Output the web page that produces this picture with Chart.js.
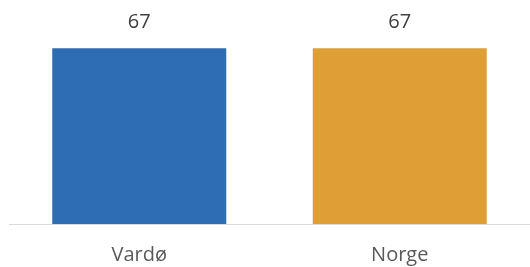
<!DOCTYPE html>
<html>
<head>
<meta charset="utf-8">
<script src="https://cdn.jsdelivr.net/npm/chart.js@4.4.0/dist/chart.umd.min.js"></script>
<style>
  html, body { margin: 0; padding: 0; background: #fff; overflow: hidden; }
  canvas { display: block; }
</style>
</head>
<body>
<canvas id="chart" width="530" height="267"></canvas>
<script>
const categories = ['Vardø', 'Norge'];
const values     = [67, 67];
const barColors  = ['#2E6DB4', '#E09E37'];

const FONT = '"Open Sans", "Liberation Sans", sans-serif';

// value labels above the bars
const valueLabels = {
  id: 'valueLabels',
  afterDatasetsDraw(chart) {
    const ctx = chart.ctx;
    const meta = chart.getDatasetMeta(0);
    ctx.save();
    ctx.font = '20px ' + FONT;
    ctx.fillStyle = '#404040';
    ctx.textAlign = 'center';
    ctx.textBaseline = 'alphabetic';
    meta.data.forEach((bar, i) => {
      ctx.fillText(values[i], bar.x, bar.y - 20);
    });
    ctx.restore();
  }
};

new Chart(document.getElementById('chart'), {
  type: 'bar',
  data: {
    labels: categories,
    datasets: [{ data: values, backgroundColor: barColors, barPercentage: 0.668, categoryPercentage: 1 }],
  },
  options: {
    responsive: false, animation: false,
    layout: { padding: { left: 9, right: 0, top: 14, bottom: 0 } },
    plugins: { legend: { display: false }, tooltip: { enabled: false } },
    scales: {
      x: {
        grid: { display: false, drawTicks: false },
        border: { color: '#D9D9D9', width: 1 },
        ticks: { color: '#595959', padding: 19, maxRotation: 0, font: { size: 20, family: FONT } },
        afterFit: s => { s.height = 43; },
      },
      y: { display: false, min: 0, max: 80 },
    },
  },
  plugins: [valueLabels],
});
</script>
</body>
</html>
